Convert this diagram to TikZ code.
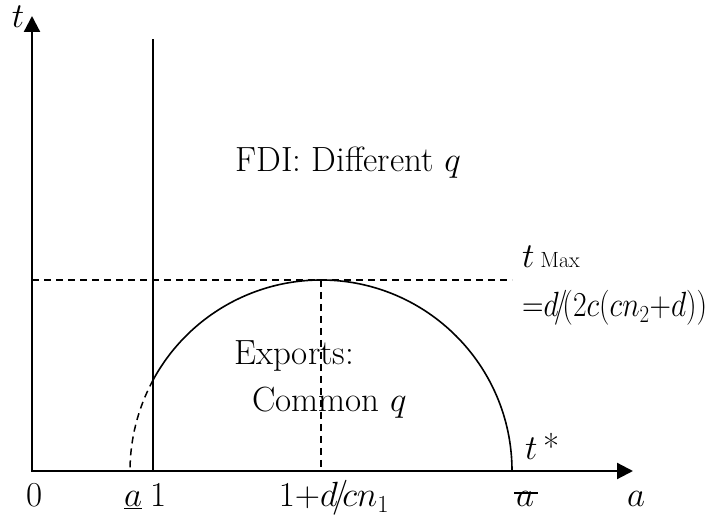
\documentclass[tikz,border=0pt]{standalone}
\usepackage{fix-cm}
\usepackage{fontspec}
\usepackage{graphicx}
\usetikzlibrary{arrows.meta}
\begin{document}
\begin{tikzpicture}[x=1pt,y=1pt,
  axis/.style={line width=2.2pt,line join=miter},
  solidline/.style={line width=1.8pt},
  curve/.style={line width=1.6pt},
  dashline/.style={line width=1.5pt,dash pattern=on 7pt off 5pt},
  lbl/.style={inner sep=0pt,font=\fontsize{35}{42}\selectfont}]
\useasboundingbox (0,0) rectangle (727,518);
% axes
\coordinate (O) at (32,47);
\coordinate (ytip) at (32,502);
\coordinate (xtip) at (633,47);
\draw[axis,{Triangle[length=16pt,width=16pt]}-{Triangle[length=16pt,width=16pt]}] (ytip) -- (O) -- (xtip);
% vertical line at a=1
\coordinate (vtop) at (153,479);
\coordinate (vbot) at (153,47);
\draw[solidline] (vbot) -- (vtop);
% semicircle
\coordinate (C) at (321,47);
\coordinate (peak) at (321,238);
\coordinate (hl) at (32,238);
\coordinate (hr) at (512,238);
\path (C) ++(0:191) coordinate (R);
\path (C) ++(151.6:191) coordinate (X);
\draw[dashline] (hl) -- (hr);
\draw[dashline] (peak) -- (C);
\draw[curve] (R) arc[start angle=0,end angle=151.6,radius=191];
\draw[dashline] (X) arc[start angle=151.6,end angle=180,radius=191];
% labels
\node[lbl,anchor=base] (tlab) at (18,490) {$t$};
\node[lbl,anchor=base] (zero) at (35,11) {0};
\node[lbl,anchor=base] (alow) at (133,11) {$\underline{a}$};
\node[lbl,anchor=base] (one) at (159,11) {1};
\node[lbl,anchor=base] (mid) at (334,11) {$1{+}d\!/\!cn_1$};
\node[lbl,anchor=base] (abar) at (525,11) {\makebox[0pt][l]{\hspace{-2pt}\rule[13pt]{24pt}{1.7pt}}$a$};
\node[lbl,anchor=base] (aax) at (636,11) {$a$};
\node[lbl,anchor=base west] (tstar) at (525,58) {$t$\,*};
\node[lbl,anchor=base west] (tmax) at (522,250) {$t$\,{\fontsize{22}{26}\selectfont Max}};
\node[lbl,anchor=base west] (formula) at (522,201) {\scalebox{0.85}[1]{${=}d\!/\!(2c(cn_2{+}d))$}};
\node[lbl,anchor=base west] (fdi) at (235,346) {FDI: Different $q$};
\node[lbl,anchor=base west] (exp) at (234,153) {Exports:};
\node[lbl,anchor=base west] (com) at (252,106) {Common $q$};
\end{tikzpicture}
\end{document}
